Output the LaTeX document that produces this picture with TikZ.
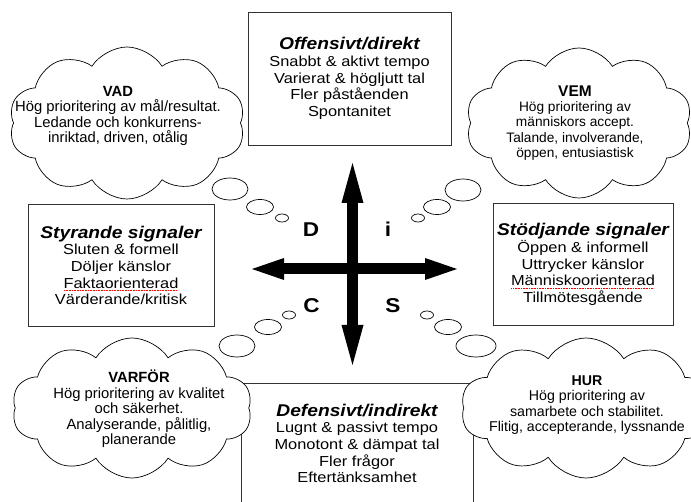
\documentclass[tikz,border=0pt]{standalone}
\usepackage{fontspec}
\setmainfont[FakeStretch=1.13]{Liberation Sans}
\newfontfamily\cloudfont{Liberation Sans}
\usetikzlibrary{shapes.symbols, shapes.geometric, positioning, arrows.meta}
\newcommand\spellmark[1]{\setbox0\hbox{#1}\rlap{\raisebox{-2.6pt}{\color{red}\hbox to \wd0{\leaders\hbox to 1.6pt{\hss\rule{0.8pt}{0.6pt}\hss}\hfill}}}#1}
\newcommand\ttl[1]{{\fontsize{17}{17}\selectfont\bfseries\itshape #1}}

\begin{document}
\begin{tikzpicture}[x=1pt, y=-1pt, semithick,
    box/.style={draw=black!80, line width=0.8pt, align=center, inner sep=0pt,
      font=\fontsize{14.5}{16.6}\selectfont},
    ctxt/.style={align=center, inner sep=0pt, font=\cloudfont\fontsize{#1}{15.4}\selectfont},
    thought/.style={cloud, cloud puffs=10, cloud puff arc=115, cloud ignores aspect,
      draw, fill=white, line width=0.7pt, inner sep=0pt},
    bubble/.style={ellipse, draw, fill=white, line width=0.7pt, inner sep=0pt},
    vaxis/.style={line width=11pt,
      {Triangle[length=40pt, width=22pt, line width=0pt]}-{Triangle[length=40pt, width=22pt, line width=0pt]}},
    haxis/.style={line width=11pt,
      {Triangle[length=32pt, width=22pt, line width=0pt]}-{Triangle[length=32pt, width=22pt, line width=0pt]}},
    quad/.style={font=\fontsize{20}{20}\selectfont\bfseries, inner sep=0pt}]
  \useasboundingbox (0,0) rectangle (691,502);

  % boxes
  \node[box, minimum width=203pt, minimum height=133pt] (offensiv) at (349.5,78.5)
    {\ttl{Offensivt/direkt}\\ Snabbt \& aktivt tempo\\ Varierat \& högljutt tal\\ Fler påståenden\\ Spontanitet};
  \node[box, minimum width=186pt, minimum height=122pt] (styrande) at (121,265.5)
    {\ttl{Styrande signaler}\\ Sluten \& formell\\ Döljer känslor\\ \spellmark{Faktaorienterad}\\ Värderande/kritisk};
  \node[box, minimum width=180pt, minimum height=122pt] (stodjande) at (583,264.5)
    {\ttl{Stödjande signaler}\\ Öppen \& informell\\ Uttrycker känslor\\ \spellmark{Människoorienterad}\\ Tillmötesgående};
  \node[box, minimum width=232pt, minimum height=160pt, anchor=north] (defensiv) at (357,383) {};
  \node[box, draw=none] (defensiv text) at (357,443.5)
    {\ttl{Defensivt/indirekt}\\ Lugnt \& passivt tempo\\ Monotont \& dämpat tal\\ Fler frågor\\ Eftertänksamhet};

  % clouds
  \node[thought, minimum width=236pt, minimum height=152pt] (vad) at (127,123) {};
  \node[thought, minimum width=226pt, minimum height=150pt] (vem) at (579,123) {};
  \node[thought, minimum width=240pt, minimum height=140pt] (varfor) at (132,408) {};
  \node[thought, minimum width=250pt, minimum height=140pt] (hur) at (586,408) {};
  \node[ctxt=14.8] (vad text) at (118,116)
    {\textbf{VAD}\\ Hög prioritering av mål/resultat.\\ Ledande och konkurrens-\\ inriktad, driven, otålig};
  \node[ctxt=13.7] (vem text) at (575,123)
    {{\fontsize{15.5}{15}\selectfont\bfseries VEM}\\ Hög prioritering av\\ människors accept.\\ Talande, involverande,\\ öppen, entusiastisk};
  \node[ctxt=14.8] (varfor text) at (139,409)
    {\textbf{VARFÖR}\\ Hög prioritering av kvalitet\\ och säkerhet.\\ Analyserande, pålitlig,\\ planerande};
  \node[ctxt=14.2] (hur text) at (587,405)
    {\textbf{HUR}\\ Hög prioritering av\\ samarbete och stabilitet.\\ Flitig, accepterande, lyssnande};

  % thought bubbles
  \node[bubble, minimum width=36pt, minimum height=22pt] (vad b1) at (230,189) {};
  \node[bubble, minimum width=27pt, minimum height=15pt] (vad b2) at (260,207) {};
  \node[bubble, minimum width=13pt, minimum height=8pt] (vad b3) at (282,218) {};
  \node[bubble, minimum width=36pt, minimum height=22pt] (vem b1) at (463,190) {};
  \node[bubble, minimum width=27pt, minimum height=15pt] (vem b2) at (437,207) {};
  \node[bubble, minimum width=13pt, minimum height=8pt] (vem b3) at (418,218) {};
  \node[bubble, minimum width=36pt, minimum height=22pt] (varfor b1) at (237,346) {};
  \node[bubble, minimum width=27pt, minimum height=15pt] (varfor b2) at (268,327) {};
  \node[bubble, minimum width=13pt, minimum height=8pt] (varfor b3) at (289,315) {};
  \node[bubble, minimum width=40pt, minimum height=22pt] (hur b1) at (476,346) {};
  \node[bubble, minimum width=27pt, minimum height=15pt] (hur b2) at (448,327) {};
  \node[bubble, minimum width=13pt, minimum height=8pt] (hur b3) at (427,315) {};

  % the cross
  \coordinate (o) at (352.5,269);
  \coordinate (n) at (352.5,163);
  \coordinate (s) at (352.5,365);
  \coordinate (w) at (252,269);
  \coordinate (e) at (457,269);
  \draw[vaxis] (s) -- (n);
  \draw[haxis] (w) -- (e);
  \node[quad] (d) at (311,230) {D};
  \node[quad] (i) at (388,229) {i};
  \node[quad] (c) at (311.5,306) {C};
  \node[quad] (s label) at (393,306) {S};
\end{tikzpicture}
\end{document}
